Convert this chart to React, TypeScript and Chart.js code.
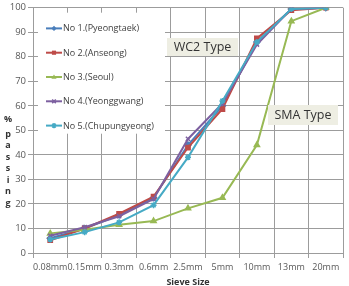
import React, { useEffect, useRef } from "react";
import { Chart, registerables } from "chart.js";

Chart.register(...registerables);

const sieveSizes = ["0.08mm", "0.15mm", "0.3mm", "0.6mm", "2.5mm", "5mm", "10mm", "13mm", "20mm"];

const pyeongtaek = [6, 10, 15.5, 22.5, 44, 60, 86, 99.5, 100];
const anseong = [5.2, 10, 16, 23, 43, 58.7, 87.5, 99, 100];
const seoul = [8, 9.5, 11.5, 13, 18.2, 22.5, 44, 94.5, 100];
const yeonggwang = [7, 10.5, 15, 22, 46.5, 61, 85, 99.5, 100];
const chupungyeong = [5.5, 8.5, 12.5, 19.5, 39, 62, 86, 99.5, 100];

const seriesNames = [
  "No 1.(Pyeongtaek)",
  "No 2.(Anseong)",
  "No 3.(Seoul)",
  "No 4.(Yeonggwang)",
  "No 5.(Chupungyeong)",
];
const seriesColors = ["#4A7EBB", "#BE4B48", "#98B954", "#7D60A0", "#46AAC5"];
const seriesMarkers = ["rectRot", "rect", "triangle", "crossRot", "star"];

const FONT = "'Open Sans', sans-serif";

function drawMarker(ctx: CanvasRenderingContext2D, style: string, x: number, y: number, r: number, color: string) {
  ctx.save();
  ctx.fillStyle = color;
  ctx.strokeStyle = color;
  ctx.lineWidth = 1.5;
  ctx.beginPath();
  if (style === "rectRot") {
    ctx.moveTo(x, y - r);
    ctx.lineTo(x + r, y);
    ctx.lineTo(x, y + r);
    ctx.lineTo(x - r, y);
    ctx.closePath();
    ctx.fill();
  } else if (style === "rect") {
    ctx.rect(x - r * 0.8, y - r * 0.8, r * 1.6, r * 1.6);
    ctx.fill();
  } else if (style === "triangle") {
    ctx.moveTo(x, y - r);
    ctx.lineTo(x + r, y + r * 0.7);
    ctx.lineTo(x - r, y + r * 0.7);
    ctx.closePath();
    ctx.fill();
  } else if (style === "crossRot") {
    ctx.moveTo(x - r * 0.7, y - r * 0.7);
    ctx.lineTo(x + r * 0.7, y + r * 0.7);
    ctx.moveTo(x + r * 0.7, y - r * 0.7);
    ctx.lineTo(x - r * 0.7, y + r * 0.7);
    ctx.stroke();
  } else {
    ctx.moveTo(x - r * 0.7, y - r * 0.7);
    ctx.lineTo(x + r * 0.7, y + r * 0.7);
    ctx.moveTo(x + r * 0.7, y - r * 0.7);
    ctx.lineTo(x - r * 0.7, y + r * 0.7);
    ctx.moveTo(x, y - r);
    ctx.lineTo(x, y + r);
    ctx.stroke();
  }
  ctx.restore();
}

const decorations = {
  id: "decorations",
  afterDatasetsDraw(chart: any) {
    const ctx: CanvasRenderingContext2D = chart.ctx;
    const area = chart.chartArea;
    ctx.save();

    // legend panel inside the plot
    const lx = area.left + 5;
    const ly = area.top + 5;
    ctx.fillStyle = "#ffffff";
    ctx.fillRect(lx, ly, 127, 121);
    ctx.font = `9px ${FONT}`;
    ctx.textBaseline = "middle";
    ctx.textAlign = "left";
    seriesNames.forEach((name, i) => {
      const y = area.top + 20.7 + i * 24.3;
      const c = seriesColors[i];
      ctx.strokeStyle = c;
      ctx.lineWidth = 2;
      ctx.beginPath();
      ctx.moveTo(area.left + 13, y);
      ctx.lineTo(area.left + 29, y);
      ctx.stroke();
      drawMarker(ctx, seriesMarkers[i], area.left + 21, y, 2.6, c);
      ctx.fillStyle = "#404040";
      ctx.fillText(name, area.left + 30, y + 0.5);
    });

    // type labels
    const boxes = [
      { text: "WC2 Type", x: 167, y: 38, w: 71, h: 18 },
      { text: "SMA Type", x: 268, y: 105, w: 70, h: 20 },
    ];
    ctx.font = `12.5px ${FONT}`;
    boxes.forEach((b) => {
      ctx.fillStyle = "#EEEEE3";
      ctx.fillRect(b.x, b.y, b.w, b.h);
      ctx.fillStyle = "#333333";
      ctx.textAlign = "center";
      ctx.fillText(b.text, b.x + b.w / 2, b.y + b.h / 2 + 0.5);
    });

    // vertical stacked y-axis title
    ctx.font = `bold 9px ${FONT}`;
    ctx.fillStyle = "#333333";
    ctx.textAlign = "center";
    ctx.fillText("%", 8, 119);
    "passing".split("").forEach((ch, i) => {
      ctx.fillText(ch, 8, 134 + i * 11.5);
    });

    // x-axis title
    ctx.fillText("Sieve Size", (area.left + area.right) / 2, 282);
    ctx.restore();
  },
};

export default function App() {
  const canvasRef = useRef<HTMLCanvasElement | null>(null);

  useEffect(() => {
    document.body.style.margin = "0";
    const canvas = canvasRef.current;
    if (!canvas) return;
    const series = [pyeongtaek, anseong, seoul, yeonggwang, chupungyeong];
    const chart = new Chart(canvas, {
      type: "line",
      data: {
        labels: sieveSizes,
        datasets: series.map((values, i) => ({
          label: seriesNames[i],
          data: values,
          borderColor: seriesColors[i],
          backgroundColor: seriesColors[i],
          borderWidth: 2,
          pointStyle: seriesMarkers[i] as any,
          pointRadius: 3,
          pointBorderWidth: 1.5,
          pointBorderColor: seriesColors[i],
          pointBackgroundColor: seriesColors[i],
          tension: 0,
          order: series.length - i,
        })),
      },
      options: {
        responsive: false,
        animation: false,
        layout: { padding: { top: 5, right: 6, left: 0, bottom: 0 } },
        plugins: {
          legend: { display: false },
          tooltip: { enabled: false },
        },
        scales: {
          x: {
            offset: true,
            grid: {
              offset: true,
              color: "#9c9c9c",
              tickLength: 5,
              drawTicks: true,
            },
            border: { color: "#9c9c9c" },
            ticks: {
              color: "#595959",
              font: { family: FONT, size: 9 },
              padding: 4,
              maxRotation: 0,
              autoSkip: false,
            },
            afterFit: (scale: any) => {
              scale.height = 33;
            },
          },
          y: {
            min: 0,
            max: 100,
            grid: { color: "#9c9c9c", tickLength: 5 },
            border: { color: "#9c9c9c" },
            ticks: {
              stepSize: 10,
              color: "#595959",
              font: { family: FONT, size: 9.5 },
              padding: 2,
            },
            afterFit: (scale: any) => {
              scale.width = 33;
            },
          },
        },
      },
      plugins: [decorations],
    });
    return () => chart.destroy();
  }, []);

  return (
    <div style={{ width: 349, height: 286 }}>
      <canvas ref={canvasRef} width={349} height={286} />
    </div>
  );
}
